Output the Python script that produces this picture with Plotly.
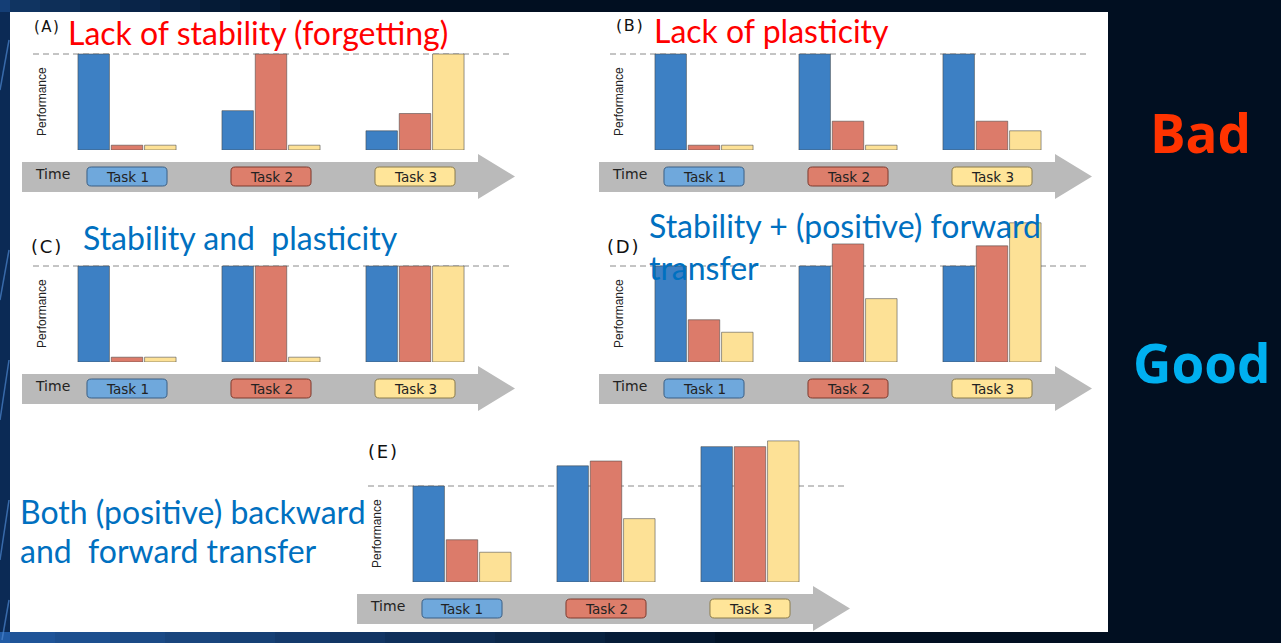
import plotly.graph_objects as go

W, H = 1281, 643

# ---------------- data ----------------
task_labels = ["Task 1", "Task 2", "Task 3"]
stages = [0, 1, 2]  # time points: after training Task 1, Task 2, Task 3

# performance of each task (blue = Task 1, red = Task 2, yellow = Task 3)
A_task1 = [1.00, 0.41, 0.20]
A_task2 = [0.05, 1.00, 0.38]
A_task3 = [0.05, 0.05, 1.00]

B_task1 = [1.00, 1.00, 1.00]
B_task2 = [0.05, 0.30, 0.30]
B_task3 = [0.05, 0.05, 0.20]

C_task1 = [1.00, 1.00, 1.00]
C_task2 = [0.05, 1.00, 1.00]
C_task3 = [0.05, 0.05, 1.00]

D_task1 = [1.00, 1.00, 1.00]
D_task2 = [0.44, 1.23, 1.21]
D_task3 = [0.31, 0.66, 1.45]

E_task1 = [1.00, 1.21, 1.41]
E_task2 = [0.44, 1.26, 1.41]
E_task3 = [0.31, 0.66, 1.47]

panel_letters = ["(A)", "(B)", "(C)", "(D)", "(E)"]
panel_data = [
    (A_task1, A_task2, A_task3),
    (B_task1, B_task2, B_task3),
    (C_task1, C_task2, C_task3),
    (D_task1, D_task2, D_task3),
    (E_task1, E_task2, E_task3),
]
reference_level = 1.0

# ---------------- style / layout ----------------
bar_colors = ["#3d80c4", "#dc7b6a", "#fde196"]
box_fill = ["#6fa8dc", "#dd7e6b", "#ffe599"]
box_line = ["#3a5f85", "#7d3b2f", "#8c7c4c"]
BG = "#010f21"
RED = "#ff0000"
BLUE = "#0070c0"

# pixel offsets of each panel relative to panel A
offsets = [(0, 0), (577, 0), (0, 212), (577, 212), (335, 432)]
letter_pos = [(46, 27, 15), (629, 26, 16), (46, 246, 18), (623, 246, 18), (382, 452, 18)]


def px(x):
    return x / W


def py(y):
    return 1 - y / H


fig = go.Figure()
shapes = []
annotations = []

# slide background decorations (white sheet + blue streaks)
shapes.append(dict(type="rect", xref="paper", yref="paper", x0=0, x1=px(10), y0=0, y1=1,
                   fillcolor="#0b2a55", line_width=0, layer="below"))
for i in range(14):
    shapes.append(dict(type="rect", xref="paper", yref="paper",
                       x0=px(i * 55), x1=px(i * 55 + 55), y0=py(643), y1=py(632),
                       fillcolor="#2a6cc0", opacity=max(0.0, 0.75 - i * 0.055), line_width=0, layer="below"))
for i in range(8):
    shapes.append(dict(type="rect", xref="paper", yref="paper",
                       x0=px(i * 40), x1=px(i * 40 + 40), y0=py(12), y1=1,
                       fillcolor="#1a4c8c", opacity=max(0.0, 0.6 - i * 0.08), line_width=0, layer="below"))
for k, (xa, ya, xb, yb) in enumerate([(0, 90, 9, 40), (0, 300, 9, 250), (0, 420, 9, 360), (0, 560, 9, 500), (2, 640, 9, 600)]):
    shapes.append(dict(type="line", xref="paper", yref="paper", x0=px(xa), y0=py(ya), x1=px(xb), y1=py(yb),
                       line=dict(color="#4c86cf", width=1.5), opacity=0.7, layer="below"))
shapes.append(dict(type="rect", xref="paper", yref="paper", x0=px(10), x1=px(1108), y0=py(632), y1=py(12),
                   fillcolor="white", line_width=0, layer="below"))

TS = "\u200a"
layout_axes = {}
for p, (dx, dy) in enumerate(offsets):
    n = p + 1
    xa = "x" if n == 1 else f"x{n}"
    ya = "y" if n == 1 else f"y{n}"
    bottom = 150 + dy
    top = bottom - 1.5 * 96
    layout_axes["xaxis" if n == 1 else f"xaxis{n}"] = dict(
        domain=[px(dx + 19), px(dx + 523)], range=[-0.75, 2.75], visible=False,
        anchor=ya, fixedrange=True)
    layout_axes["yaxis" if n == 1 else f"yaxis{n}"] = dict(
        domain=[py(bottom), py(top)], range=[0, 1.5], visible=False,
        anchor=xa, fixedrange=True)

    # bars
    for s, vals in enumerate(panel_data[p]):
        fig.add_trace(go.Bar(
            x=stages, y=vals, xaxis=xa, yaxis=ya, name=task_labels[s],
            marker=dict(color=bar_colors[s], line=dict(color="rgba(70,70,70,0.55)", width=1)),
            showlegend=False, hoverinfo="skip"))

    # dashed reference line
    shapes.append(dict(type="line", xref="paper", yref=ya, x0=px(dx + 33), x1=px(dx + 510),
                       y0=reference_level, y1=reference_level,
                       line=dict(color="#8a8a8a", width=1, dash="6px,4px"), layer="below"))

    # time arrow
    pts = [(22, 162), (478, 162), (478, 154), (515, 176.5), (478, 199), (478, 192), (22, 192)]
    path = "M " + " L ".join(f"{px(x + dx):.5f},{py(y + dy):.5f}" for x, y in pts) + " Z"
    shapes.append(dict(type="path", xref="paper", yref="paper", path=path,
                       fillcolor="#bababa", line_width=0, layer="below"))

    # task boxes on the time arrow (positioned by the stage axis)
    y0, y1 = py(167 + dy), py(186 + dy)
    for i, lab in enumerate(task_labels):
        hw, r = 0.278, 0.03
        ry = 4 / H
        xl, xr = stages[i] - hw, stages[i] + hw
        path = (f"M {xl + r},{y0} L {xr - r},{y0} Q {xr},{y0} {xr},{y0 - ry} "
                f"L {xr},{y1 + ry} Q {xr},{y1} {xr - r},{y1} L {xl + r},{y1} "
                f"Q {xl},{y1} {xl},{y1 + ry} L {xl},{y0 - ry} Q {xl},{y0} {xl + r},{y0} Z")
        shapes.append(dict(type="path", xref=xa, yref="paper", path=path,
                           fillcolor=box_fill[i], line=dict(color=box_line[i], width=1)))
        annotations.append(dict(x=stages[i], y=py(177 + dy), xref=xa, yref="paper", text=lab,
                                showarrow=False, xanchor="center", yanchor="middle",
                                font=dict(family="DejaVu Sans", size=13.5, color="#222222")))

    annotations.append(dict(x=px(52 + dx), y=py(174 + dy), xref="paper", yref="paper", text="Time",
                            showarrow=False, xanchor="center", yanchor="middle",
                            font=dict(family="DejaVu Sans", size=14, color="#222222")))
    annotations.append(dict(x=px(42 + dx), y=py(102 + dy), xref="paper", yref="paper", text="Performance",
                            showarrow=False, textangle=-90, xanchor="center", yanchor="middle",
                            font=dict(family="Liberation Sans Narrow, Liberation Sans", size=12, color="#222222")))
    lx, ly, ls = letter_pos[p]
    letter = panel_letters[p]
    annotations.append(dict(x=px(lx), y=py(ly), xref="paper", yref="paper",
                            text=letter[0] + TS + letter[1] + TS + letter[2],
                            showarrow=False, xanchor="center", yanchor="middle",
                            font=dict(family="DejaVu Sans", size=ls, color="#111111")))

# titles
TF = "Lato"
titles = [
    ("Lack of stability (forgetting)", 66, 33, RED),
    ("Lack of plasticity", 652, 30, RED),
    ("Stability and  plasticity", 81, 237, BLUE),
    ("Stability + (positive) forward", 647, 226, BLUE),
    ("transfer", 647, 267, BLUE),
    ("Both (positive) backward", 18, 511, BLUE),
    ("and  forward transfer", 18, 550, BLUE),
]
for text, x, y, c in titles:
    annotations.append(dict(x=px(x), y=py(y), xref="paper", yref="paper", text=text,
                            showarrow=False, xanchor="left", yanchor="middle",
                            font=dict(family=TF, size=32, color=c)))

annotations.append(dict(x=px(1200), y=py(133), xref="paper", yref="paper", text="<b>Bad</b>",
                        showarrow=False, xanchor="center", yanchor="middle",
                        font=dict(family="Open Sans", size=53, color="#ff3300")))
annotations.append(dict(x=px(1202), y=py(362), xref="paper", yref="paper", text="<b>Good</b>",
                        showarrow=False, xanchor="center", yanchor="middle",
                        font=dict(family="Open Sans", size=53, color="#00b0f0")))

fig.update_layout(
    width=W, height=H, autosize=False,
    margin=dict(l=0, r=0, t=0, b=0, pad=0),
    paper_bgcolor=BG, plot_bgcolor="rgba(0,0,0,0)",
    barmode="group", bargap=0.306, bargroupgap=0.055,
    shapes=shapes, annotations=annotations, showlegend=False,
    **layout_axes,
)

fig.write_html("out.html", config={"displayModeBar": False},
               post_script="document.body.style.margin='0';document.body.style.overflow='hidden';")
